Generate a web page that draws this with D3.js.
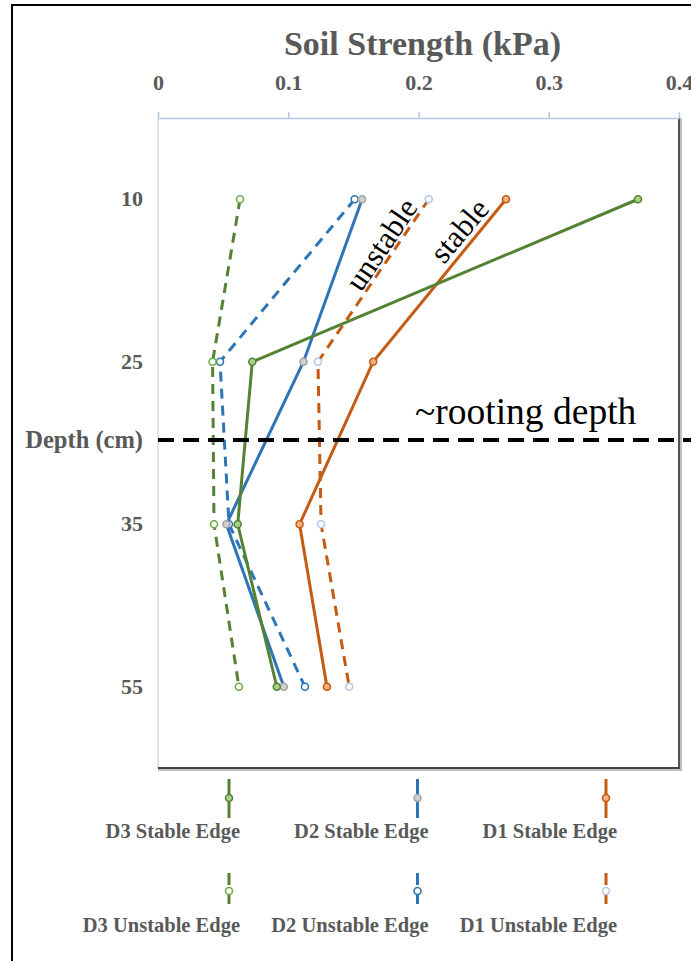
<!DOCTYPE html>
<html>
<head>
<meta charset="utf-8">
<script src="https://cdn.jsdelivr.net/npm/d3@7"></script>
<style>
    body { margin: 0; background: #fff; }
    svg { display: block; }
    svg text { font-family: "Liberation Serif", "DejaVu Serif", serif; }
</style>
</head>
<body>
<div id="chart"></div>
<script>
// depths (categories on the y axis) and soil strength readings per series
const depths = ["10", "25", "35", "55"];
const xTicks = [0, 0.1, 0.2, 0.3, 0.4];
const rootingDepth = 30;

const d3Stable = [0.3685, 0.0724, 0.0612, 0.0912];
const d3Unstable = [0.0630, 0.0419, 0.0430, 0.0621];
const d2Stable = [0.1567, 0.1117, 0.0525, 0.0966];
const d2Unstable = [0.1510, 0.0476, 0.0545, 0.1128];
const d1Stable = [0.2672, 0.1652, 0.1087, 0.1297];
const d1Unstable = [0.2079, 0.1228, 0.1252, 0.1468];

const serif = "Liberation Serif";
const green = "#548235";
const blue = "#2e75b6";
const orange = "#c55a11";

// drawing order: back to front
const series = [
    {name: "D1 Unstable Edge", values: d1Unstable, color: orange, dash: "10,7", mStroke: "#b4c7e7", mFill: "#fff", col: 2, row: 1},
    {name: "D1 Stable Edge", values: d1Stable, color: orange, dash: null, mStroke: orange, mFill: "#f4b183", col: 2, row: 0},
    {name: "D2 Unstable Edge", values: d2Unstable, color: blue, dash: "10,7", mStroke: blue, mFill: "#fff", col: 1, row: 1},
    {name: "D2 Stable Edge", values: d2Stable, color: blue, dash: null, mStroke: "#a5a5a5", mFill: "#d0d0d0", col: 1, row: 0},
    {name: "D3 Unstable Edge", values: d3Unstable, color: green, dash: "10,7", mStroke: "#70ad47", mFill: "#fff", col: 0, row: 1},
    {name: "D3 Stable Edge", values: d3Stable, color: green, dash: null, mStroke: green, mFill: "#a9d18e", col: 0, row: 0}
];

const width = 691;
const height = 961;
const margin = {top: 118, left: 158, right: 12, bottom: 193};

const svg = d3.select("#chart")
    .append("svg")
    .attr("width", width)
    .attr("height", height);

// outer frame
svg.append("rect")
    .attr("x", 12)
    .attr("y", 5)
    .attr("width", width + 20)
    .attr("height", height + 20)
    .attr("fill", "none")
    .attr("stroke", "#000")
    .attr("stroke-width", 2);

const xScale = d3.scaleLinear()
    .domain([0, 0.4])
    .range([margin.left, width - margin.right]);

const yScale = d3.scaleBand()
    .domain(depths)
    .range([margin.top, height - margin.bottom]);

const yMid = d => yScale(d) + yScale.bandwidth() / 2;

const x0 = xScale.range()[0], x1 = xScale.range()[1];
const y0 = yScale.range()[0], y1 = yScale.range()[1];

// plot area border (light left, dark shadowed bottom/right)
svg.append("line")
    .attr("x1", x0).attr("x2", x0)
    .attr("y1", y0).attr("y2", y1)
    .attr("stroke", "#d9d9d9").attr("stroke-width", 1.5);

svg.append("path")
    .attr("d", `M${x0},${y1 + 2}H${x1 + 2}V${y0}`)
    .attr("fill", "none")
    .attr("stroke", "#bfbfbf").attr("stroke-width", 2);

svg.append("path")
    .attr("d", `M${x0},${y1}H${x1}V${y0}`)
    .attr("fill", "none")
    .attr("stroke", "#404040").attr("stroke-width", 1.8);

// top x axis
const xAxis = svg.append("g")
    .attr("transform", `translate(0,${y0})`)
    .call(d3.axisTop(xScale).tickValues(xTicks).tickSize(6).tickSizeOuter(0).tickPadding(22)
        .tickFormat(d => d3.format("")(d)));

xAxis.attr("font-family", serif).attr("font-size", 22).attr("font-weight", "bold");
xAxis.select(".domain").attr("stroke", "#b4c7e7").attr("stroke-width", 1.5);
xAxis.selectAll(".tick line").attr("stroke", "#b4c7e7").attr("stroke-width", 1.5);
xAxis.selectAll(".tick text").attr("fill", "#595959");

svg.append("text")
    .attr("x", (x0 + x1) / 2 + 4)
    .attr("y", 55)
    .attr("text-anchor", "middle")
    .attr("fill", "#595959")
    .attr("font-family", serif)
    .attr("font-weight", "bold")
    .attr("font-size", 34)
    .text("Soil Strength (kPa)");

// left y axis labels
const yAxis = svg.append("g")
    .attr("transform", `translate(${x0},0)`)
    .call(d3.axisLeft(yScale).tickSize(0).tickPadding(15));

yAxis.attr("font-family", serif).attr("font-size", 22).attr("font-weight", "bold");
yAxis.select(".domain").remove();
yAxis.selectAll(".tick text").attr("fill", "#595959");

const yRoot = yMid("25") + (rootingDepth - 25) / (35 - 25) * (yMid("35") - yMid("25")) - 3;

svg.append("text")
    .attr("x", x0 - 15)
    .attr("y", yRoot)
    .attr("dy", "0.32em")
    .attr("text-anchor", "end")
    .attr("fill", "#595959")
    .attr("font-family", serif)
    .attr("font-weight", "bold")
    .attr("font-size", 24.5)
    .text("Depth (cm)");

// series
const line = d3.line()
    .x(d => xScale(d.v))
    .y(d => yMid(d.depth));

series.forEach(function(s) {
    const pts = s.values.map((v, i) => ({v: v, depth: depths[i]}));

    svg.append("path")
        .datum(pts)
        .attr("d", line)
        .attr("fill", "none")
        .attr("stroke", s.color)
        .attr("stroke-width", 3)
        .attr("stroke-dasharray", s.dash);

    svg.selectAll(null)
        .data(pts)
        .enter()
        .append("circle")
            .attr("cx", d => xScale(d.v))
            .attr("cy", d => yMid(d.depth))
            .attr("r", 3.5)
            .attr("fill", s.mFill)
            .attr("stroke", s.mStroke)
            .attr("stroke-width", 1.6);
});

// rooting depth line
svg.append("line")
    .attr("x1", x0)
    .attr("x2", width)
    .attr("y1", yRoot)
    .attr("y2", yRoot)
    .attr("stroke", "#000")
    .attr("stroke-width", 4)
    .attr("stroke-dasharray", "16,9");

svg.append("text")
    .attr("x", 415)
    .attr("y", yRoot - 16)
    .attr("fill", "#000")
    .attr("font-family", serif)
    .attr("font-size", 37.5)
    .text("~rooting depth");

svg.append("text")
    .attr("transform", "translate(361,293) rotate(-56)")
    .attr("fill", "#000")
    .attr("font-family", serif)
    .attr("font-size", 31)
    .text("unstable");

svg.append("text")
    .attr("transform", "translate(444,265) rotate(-50)")
    .attr("fill", "#000")
    .attr("font-family", serif)
    .attr("font-size", 31)
    .text("stable");

// legend
const legendX = [229, 417.5, 606];
const legendLineY = [[779, 818], [873, 909]];
const legendMarkY = [798, 891];
const legendTextY = [838, 932];

series.forEach(function(s) {
    const lx = legendX[s.col];

    svg.append("line")
        .attr("x1", lx).attr("x2", lx)
        .attr("y1", legendLineY[s.row][0])
        .attr("y2", legendLineY[s.row][1])
        .attr("stroke", s.color)
        .attr("stroke-width", 3)
        .attr("stroke-dasharray", s.dash ? "12,7" : null);

    svg.append("circle")
        .attr("cx", lx)
        .attr("cy", legendMarkY[s.row])
        .attr("r", 3.5)
        .attr("fill", s.mFill)
        .attr("stroke", s.mStroke)
        .attr("stroke-width", 1.6);

    svg.append("text")
        .attr("x", lx + 11)
        .attr("y", legendTextY[s.row])
        .attr("text-anchor", "end")
        .attr("fill", "#595959")
        .attr("font-family", serif)
        .attr("font-weight", "bold")
        .attr("font-size", 20.5)
        .text(s.name);
});
</script>
</body>
</html>
